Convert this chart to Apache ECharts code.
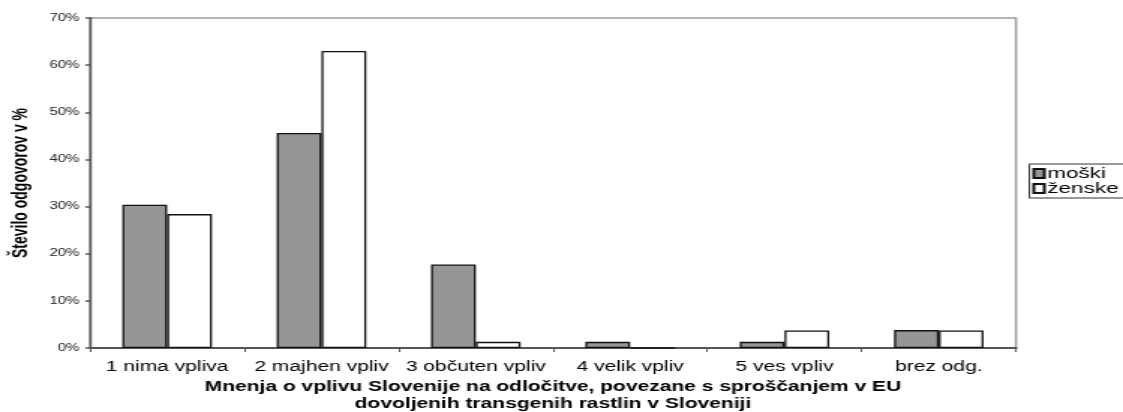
<!DOCTYPE html>
<html><head><meta charset="utf-8">
<script src="https://cdn.jsdelivr.net/npm/echarts@6/dist/echarts.min.js"></script>
<style>
html,body{margin:0;padding:0;background:#fff;overflow:hidden}
#wrap{width:1123px;height:412px;overflow:hidden}
#c{width:749px;height:412px;transform:scaleX(1.49933);transform-origin:0 0}
</style>
</head><body><div id="wrap"><div id="c"></div></div>
<script>
const categories = ['1 nima vpliva', '2 majhen vpliv', '3 občuten vpliv', '4 velik vpliv', '5 ves vpliv', 'brez odg.'];
const moski = [30.4, 45.6, 17.7, 1.3, 1.3, 3.8];
const zenske = [28.4, 63.0, 1.3, 0, 3.7, 3.7];
const yTitle = 'Število odgovorov v %';
const xTitle = 'Mnenja o vplivu Slovenije na odločitve, povezane s sproščanjem v EU\ndovoljenih transgenih rastlin v Sloveniji';

const chart = echarts.init(document.getElementById('c'));
chart.setOption({
  animation: false,
  backgroundColor: '#fff',
  textStyle: { fontFamily: 'Liberation Sans, Arial, sans-serif' },
  grid: { left: 60, right: 71.4, top: 18, bottom: 64, containLabel: false, outerBoundsMode: 'none',
          show: true, borderColor: '#9a9a9a', borderWidth: 1.5 },
  legend: {
    orient: 'vertical', left: 686.5, top: 164,
    borderColor: '#333', borderWidth: 1, borderRadius: 0,
    padding: [2, 20, 2, 2], itemGap: 0,
    itemWidth: 7, itemHeight: 9,
    textStyle: { fontSize: 15, lineHeight: 15, color: '#000', padding: [0, 0, 0, -3] },
    data: [
      { name: 'moški', icon: 'rect' },
      { name: 'ženske', icon: 'rect' }
    ]
  },
  xAxis: {
    type: 'category', data: categories,
    name: xTitle, nameLocation: 'middle', nameGap: 31,
    nameTextStyle: { fontSize: 14, fontWeight: 'bold', color: '#000', lineHeight: 17 },
    axisLine: { lineStyle: { color: '#555', width: 2 } },
    axisTick: { show: true, length: 4, lineStyle: { color: '#555', width: 1 } },
    axisLabel: { fontSize: 14, color: '#000', margin: 12, interval: 0 }
  },
  yAxis: {
    type: 'value', min: 0, max: 70, interval: 10,
    name: yTitle, nameLocation: 'middle', nameGap: 39, nameRotate: 90,
    nameTextStyle: { fontSize: 14, fontWeight: 'bold', color: '#000' },
    axisLine: { show: true, lineStyle: { color: '#555', width: 1.4 } },
    axisTick: { show: true, length: 3, lineStyle: { color: '#555', width: 1.5 } },
    axisLabel: { fontSize: 10, color: '#222', margin: 7, formatter: '{value}%' },
    splitLine: { show: false }
  },
  series: [
    { name: 'moški', type: 'bar', data: moski, barGap: '0%', barCategoryGap: '42%',
      itemStyle: { color: '#969696', borderColor: '#111', borderWidth: 1.3 } },
    { name: 'ženske', type: 'bar', data: zenske,
      itemStyle: { color: '#fff', borderColor: '#111', borderWidth: 1.3 } }
  ]
});
</script></body></html>
